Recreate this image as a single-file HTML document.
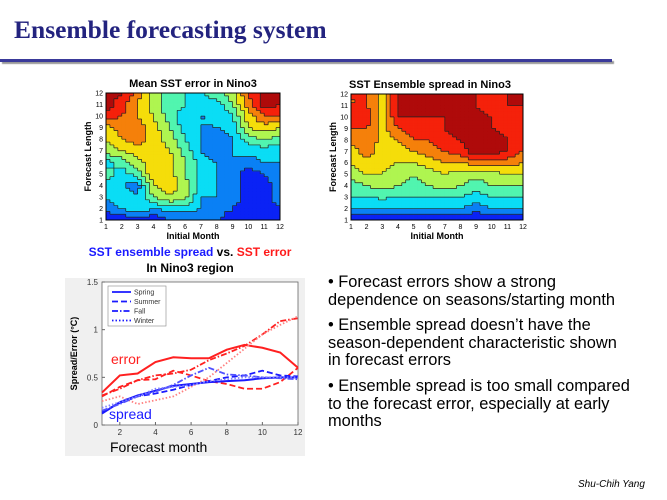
<!DOCTYPE html>
<html><head><meta charset="utf-8">
<style>
body{margin:0;width:667px;height:500px;background:#fff;position:relative;overflow:hidden;font-family:"Liberation Sans",Arial,sans-serif}
.abs{position:absolute}
.title{left:14px;top:15px;font-family:"Liberation Serif",serif;font-weight:bold;font-size:25.5px;color:#23237f}
.rule{left:0;top:59px;width:612px;height:3px;background:#3a3a9a;box-shadow:2px 2px 1px #999}
.bul{left:328px;font-size:16.4px;line-height:17.5px;color:#000;white-space:nowrap}
</style></head>
<body>
<div class="abs title">Ensemble forecasting system</div>
<div class="abs rule"></div>

<svg class="abs" style="left:0;top:0" width="667" height="500">
<g id="c1"></g>
<g id="c2"></g>
<rect x="65" y="278" width="240" height="178" fill="#f0f0f0"/>
<g id="lc"></g>
<text x="190" y="256" text-anchor="middle" font-size="12" font-weight="bold"><tspan fill="#1a1aff">SST ensemble spread</tspan><tspan fill="#000"> vs. </tspan><tspan fill="#ff1a1a">SST error</tspan></text>
<text x="190" y="272" text-anchor="middle" font-size="12" font-weight="bold">In Nino3 region</text>
</svg>

<div class="abs bul" style="top:274px">• Forecast errors show a strong<br>dependence on seasons/starting month</div>
<div class="abs bul" style="top:317px">• Ensemble spread doesn’t have the<br>season-dependent characteristic shown<br>in forecast errors</div>
<div class="abs bul" style="top:378px">• Ensemble spread is too small compared<br>to the forecast error, especially at early<br>months</div>
<div class="abs" style="left:578px;top:479px;font-size:10px;font-style:italic">Shu-Chih Yang</div>

<script>
const NS="http://www.w3.org/2000/svg";
// contour data: rows forecast length 12..1, cols month 1..12
const errorGrid=[
[.95,.9,.75,.55,.45,.4,.4,.45,.55,.8,.95,.95],
[.95,.85,.7,.55,.45,.4,.35,.35,.5,.75,.95,.9],
[.85,.8,.7,.6,.45,.35,.3,.3,.4,.65,.8,.8],
[.65,.75,.75,.65,.5,.35,.3,.3,.35,.6,.65,.6],
[.6,.7,.75,.65,.55,.4,.3,.2,.3,.45,.5,.45],
[.55,.6,.65,.7,.6,.45,.3,.2,.3,.35,.35,.35],
[.35,.45,.55,.7,.65,.5,.35,.3,.3,.25,.3,.3],
[.45,.35,.45,.7,.65,.5,.35,.3,.25,.15,.2,.3],
[.35,.3,.25,.6,.65,.55,.35,.3,.25,.15,.15,.25],
[.3,.35,.3,.5,.6,.55,.3,.3,.25,.15,.15,.25],
[.25,.3,.4,.3,.35,.35,.3,.25,.2,.15,.15,.2],
[.1,.1,.15,.1,.2,.2,.2,.2,.15,.15,.15,.15]];
const spreadGrid=[
[.8,.8,.65,.9,.9,.9,.9,.9,.9,.8,.9,.9],
[.8,.8,.65,.9,.9,.9,.9,.9,.9,.8,.9,.9],
[.8,.88,.65,.9,.9,.9,.9,.97,.95,.9,.85,.85],
[.8,.8,.65,.8,.85,.85,.9,.95,.95,.9,.85,.8],
[.75,.8,.65,.7,.8,.8,.85,.9,.95,.95,.9,.8],
[.65,.75,.65,.65,.7,.75,.8,.85,.97,.95,.9,.8],
[.6,.65,.62,.6,.6,.65,.7,.7,.75,.75,.75,.7],
[.55,.6,.6,.55,.5,.55,.6,.55,.55,.55,.6,.6],
[.45,.5,.55,.5,.45,.5,.55,.5,.45,.5,.5,.5],
[.4,.4,.42,.4,.4,.4,.4,.4,.35,.4,.4,.4],
[.3,.3,.3,.3,.3,.3,.3,.3,.25,.3,.3,.3],
[.12,.12,.12,.12,.12,.12,.12,.12,.1,.12,.12,.12]];
const monthTicks=[1,2,3,4,5,6,7,8,9,10,11,12];
const lenTicks=[1,2,3,4,5,6,7,8,9,10,11,12];

function jet(v){
  const c=(x)=>Math.max(0,Math.min(1,x));
  const r=c(1.5-Math.abs(4*v-3)),g=c(1.5-Math.abs(4*v-2)),b=c(1.5-Math.abs(4*v-1));
  return `rgb(${Math.round(r*235+10)},${Math.round(g*235+10)},${Math.round(b*235+10)})`;
}
function mk(tag,attrs,parent){const e=document.createElementNS(NS,tag);for(const k in attrs)e.setAttribute(k,attrs[k]);parent.appendChild(e);return e;}

function contour(gid,grid,x0,x1,y0,y1,title,tx){
  const g=document.getElementById(gid);
  const xs=m=>x0+(m-1)/11*(x1-x0);
  const ys=l=>y1-(l-1)/11*(y1-y0);
  const N=44;
  const val=(fm,fl)=>{
    const i=Math.min(10,Math.floor(fm)),j=Math.min(10,Math.floor(fl));
    const u=fm-i,w=fl-j;
    const r=k=>grid[11-k];
    return r(j)[i]*(1-u)*(1-w)+r(j)[i+1]*u*(1-w)+r(j+1)[i]*(1-u)*w+r(j+1)[i+1]*u*w;
  };
  const cw=(x1-x0)/N,ch=(y1-y0)/N;
  const lev=[];
  for(let a=0;a<N;a++){lev.push([]);for(let b=0;b<N;b++){
    const v=val((a+.5)/N*11,(b+.5)/N*11);
    const q=Math.min(.95,Math.floor(v*10)/10+.05);
    lev[a].push(q);
    const r=mk('rect',{x:x0+a*cw,y:y1-(b+1)*ch,width:cw+.4,height:ch+.4,fill:jet(q)},g);
    
    
  }}
  let d='';
  for(let a=0;a<N;a++)for(let b=0;b<N;b++){
    if(a+1<N&&lev[a][b]!==lev[a+1][b]){const x=x0+(a+1)*cw;d+=`M${x},${y1-b*ch}V${y1-(b+1)*ch}`;}
    if(b+1<N&&lev[a][b]!==lev[a][b+1]){const y=y1-(b+1)*ch;d+=`M${x0+a*cw},${y}H${x0+(a+1)*cw}`;}
  }
  mk('path',{d:d,stroke:'#222','stroke-width':.7,fill:'none'},g);
  mk('rect',{x:x0,y:y0,width:x1-x0,height:y1-y0,fill:'none',stroke:'#000','stroke-width':1},g);
  monthTicks.forEach(m=>{const t=mk('text',{x:xs(m),y:y1+9,'font-size':7,'text-anchor':'middle'},g);t.textContent=m;});
  lenTicks.forEach(l=>{const t=mk('text',{x:x0-3,y:ys(l)+2.5,'font-size':7,'text-anchor':'end'},g);t.textContent=l;});
  let t=mk('text',{x:(x0+x1)/2,y:y1+19,'font-size':9,'font-weight':'bold','text-anchor':'middle'},g);t.textContent='Initial Month';
  
  t=mk('text',{x:0,y:0,'font-size':9,'font-weight':'bold','text-anchor':'middle',transform:`translate(${x0-15},${(y0+y1)/2}) rotate(-90)`},g);t.textContent='Forecast Length';
  
  t=mk('text',{x:tx,y:y0-6,'font-size':11,'font-weight':'bold','text-anchor':'middle'},g);t.textContent=title;
  
}
contour('c1',errorGrid,106,280,93,220,'Mean SST error in Nino3',193);
contour('c2',spreadGrid,351,523,94,220,'SST Ensemble spread in Nino3',430);

// line chart data
const months=[1,2,3,4,5,6,7,8,9,10,11,12];
const errSpring=[.34,.52,.54,.66,.71,.70,.70,.79,.84,.81,.76,.60];
const errSummer=[.30,.40,.47,.48,.57,.52,.46,.43,.38,.38,.45,.60];
const errFall=[.31,.38,.47,.52,.54,.58,.68,.75,.83,.95,1.09,1.12];
const errWinter=[.25,.30,.22,.26,.30,.40,.50,.65,.80,.95,1.05,1.14];
const sprSpring=[.12,.24,.31,.36,.41,.43,.45,.46,.47,.49,.50,.50];
const sprSummer=[.14,.23,.30,.33,.37,.42,.46,.50,.52,.57,.52,.51];
const sprFall=[.15,.22,.30,.35,.42,.52,.60,.53,.52,.50,.49,.48];
const sprWinter=[.18,.24,.30,.38,.40,.42,.46,.48,.50,.50,.50,.50];
const yTicks=[0,0.5,1,1.5];
const yTickLabels=['0','0.5','1','1.5'];
const xTicks=[2,4,6,8,10,12];

(function(){
  const g=document.getElementById('lc');
  const X0=102,X1=298,Y0=282,Y1=425;
  const xs=m=>X0+(m-1)/11*(X1-X0);
  const ys=v=>Y1-v/1.5*(Y1-Y0);
  mk('rect',{x:X0,y:Y0,width:X1-X0,height:Y1-Y0,fill:'#fff',stroke:'#666','stroke-width':.8},g);
  yTicks.forEach((v,i)=>{const t=mk('text',{x:X0-4,y:ys(v)+3,'font-size':8,'text-anchor':'end',fill:'#333'},g);t.textContent=yTickLabels[i];
    mk('line',{x1:X0,x2:X0+3,y1:ys(v),y2:ys(v),stroke:'#666'},g);});
  xTicks.forEach(m=>{const t=mk('text',{x:xs(m),y:Y1+10,'font-size':8,'text-anchor':'middle',fill:'#333'},g);t.textContent=m;
    mk('line',{x1:xs(m),x2:xs(m),y1:Y1,y2:Y1-3,stroke:'#666'},g);});
  let t=mk('text',{x:0,y:0,'font-size':9,'font-weight':'bold','text-anchor':'middle',transform:`translate(${X0-25},${(Y0+Y1)/2}) rotate(-90)`},g);t.textContent='Spread/Error (°C)';
  
  t=mk('text',{x:110,y:452,'font-size':14},g);t.textContent='Forecast month';
  
  const styles={solid:'',dash:'6,3',dashdot:'6,2,1.5,2',dot:'1.5,2'};
  const series=[[errSpring,'#ff2020','solid','error-spring'],[errSummer,'#ff2020','dash','error-summer'],[errFall,'#ff2020','dashdot','error-fall'],[errWinter,'#ff8080','dot','error-winter'],
    [sprSpring,'#1a1aff','solid','spread-spring'],[sprSummer,'#1a1aff','dash','spread-summer'],[sprFall,'#5050ff','dashdot','spread-fall'],[sprWinter,'#8080ff','dot','spread-winter']];
  series.forEach(([d,c,s,n])=>{
    const p=mk('polyline',{points:d.map((v,i)=>xs(months[i])+','+ys(v)).join(' '),fill:'none',stroke:c,'stroke-width':s==='solid'?2:1.8,'stroke-dasharray':styles[s]},g);
    
    
  });
  t=mk('text',{x:111,y:364,'font-size':14,fill:'#ff2020'},g);t.textContent='error';
  
  t=mk('text',{x:109,y:419,'font-size':14,fill:'#1a1aff'},g);t.textContent='spread';
  
  const lg=mk('g',{},g);
  
  mk('rect',{x:108,y:286,width:58,height:40,fill:'#fff',stroke:'#888','stroke-width':.6},lg);
  [['Spring','solid'],['Summer','dash'],['Fall','dashdot'],['Winter','dot']].forEach(([n,s],i)=>{
    const y=292+i*9.5;
    mk('line',{x1:112,x2:131,y1:y,y2:y,stroke:'#1a1aff','stroke-width':1.8,'stroke-dasharray':styles[s]},lg);
    const tt=mk('text',{x:134,y:y+2.5,'font-size':7,fill:'#333'},lg);tt.textContent=n;
    
  });
})();
</script>
</body></html>
